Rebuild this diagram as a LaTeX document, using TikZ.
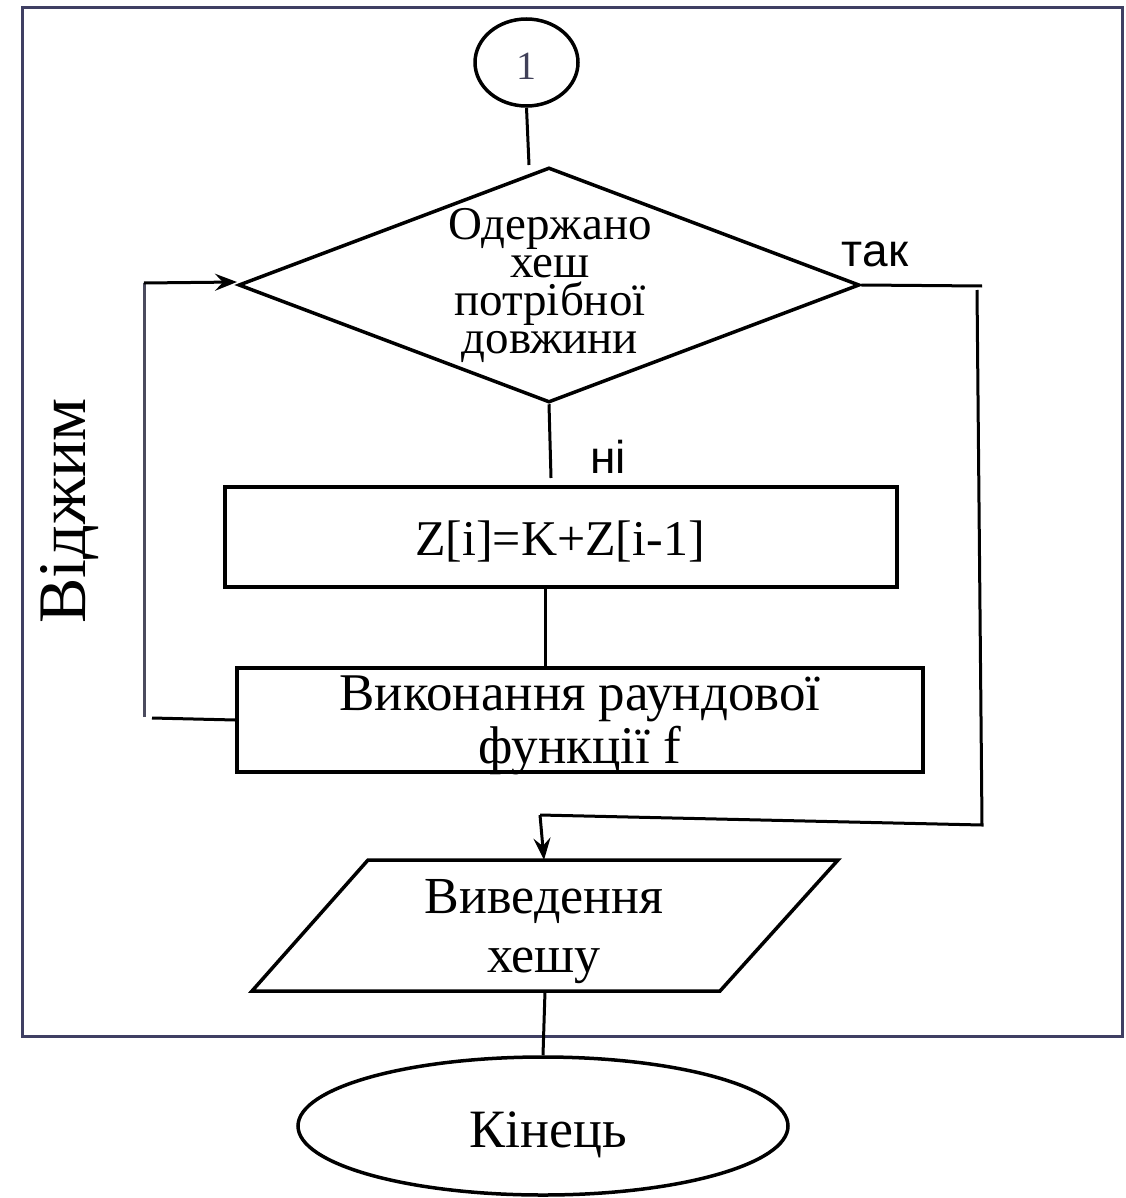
\documentclass[tikz,border=0pt]{standalone}
\usepackage{fontspec}
\setmainfont{Liberation Serif}
\newfontfamily\sansf{Liberation Sans}
\usetikzlibrary{shapes.geometric,arrows.meta}
\definecolor{framec}{HTML}{3F3F63}
\definecolor{loopc}{HTML}{4B4B5E}
\definecolor{numc}{HTML}{404058}
\newcommand{\tightlines}[2]{\vbox{\baselineskip=#1\lineskiplimit=-200pt\lineskip=0pt\halign{\hfil##\hfil\cr#2\crcr}}}
\begin{document}
\begin{tikzpicture}[x=1pt,y=-1pt,
  shp/.style={draw=black,line width=3.5pt},
  conn/.style={draw=black,line width=3pt},
  arr/.style={conn,-{Stealth[length=22pt,width=17pt,inset=8pt]}},
  lbl/.style={inner sep=0pt,anchor=base},
  fsz/.style={font=\fontsize{#1}{#1}\selectfont},
  sfsz/.style={font=\sansf\fontsize{#1}{#1}\selectfont}
]
\useasboundingbox (0,0) rectangle (1125,1198);
% frame
\draw[framec,line width=3pt] (22.5,7.5) rectangle (1122.5,1036);

% start connector circle
\node[shp,ellipse,minimum width=103pt,minimum height=87pt,inner sep=0pt] (c1) at (526.5,62.5) {};
\node[lbl,fsz=40,text=numc] (c1t) at (526.5,80) {1};

% decision
\node[shp,diamond,minimum width=621pt,minimum height=235pt,inner sep=0pt] (d) at (549,285) {};
\node[lbl,fsz=47] (dt) at (550,353) {\tightlines{37.7pt}{Одержано\cr хеш\cr потрібної\cr довжини}};
\node[lbl,sfsz=46] (yes) at (875,266) {так};
\node[lbl,sfsz=46] (no) at (608,473) {ні};

% process boxes
\node[shp,rectangle,minimum width=672pt,minimum height=100pt,inner sep=0pt] (b1) at (561,537) {};
\node[lbl,fsz=50] (b1t) at (560,555) {Z[i]=K+Z[i-1]};
\node[shp,rectangle,minimum width=686pt,minimum height=104pt,inner sep=0pt] (b2) at (580,720) {};
\node[lbl,fsz=53] (b2t) at (580,763) {\tightlines{53pt}{Виконання раундової\cr функції f}};

% output parallelogram
\coordinate (pTL) at (368,860);
\coordinate (pTR) at (838,860);
\coordinate (pBR) at (720,991);
\coordinate (pBL) at (252,991);
\draw[shp,line join=miter] (pTL) -- (pTR) -- (pBR) -- (pBL) -- cycle;
\node[lbl,fsz=52] (pt) at (544,972) {\tightlines{59pt}{Виведення\cr хешу}};
\coordinate (pgTop) at (544,860);
\coordinate (pgBot) at (545,991);

% end terminal
\node[shp,ellipse,minimum width=490pt,minimum height=138pt,inner sep=0pt] (e) at (543,1126) {};
\node[lbl,fsz=54] (et) at (548,1147) {Кінець};

% side label
\node[lbl,fsz=68,rotate=90] (side) at (85,511) {Віджим};

% connector coordinates
\coordinate (c1end) at (529,165);
\coordinate (dno) at (551,478);
\coordinate (m1) at (545,587);
\coordinate (m2) at (545,666);
\coordinate (r1) at (982,286);
\coordinate (r2) at (977,290);
\coordinate (r3) at (982,825);
\coordinate (r4) at (540,815);
\coordinate (l1) at (152,718);
\coordinate (l2) at (144,717);
\coordinate (l3) at (144,283);
\coordinate (l4) at (237,282);

% connectors
\draw[conn] (c1.south) -- (c1end);
\draw[conn] (d.south) -- (dno);
\draw[conn] (m1) -- (m2);
\draw[conn] (d.east) -- (r1);
\draw[conn] (r2) -- (r3) -- (r4);
\draw[arr] (r4) -- (pgTop);
\draw[conn] (b2.west) -- (l1);
\draw[loopc,line width=3pt] (l2) -- (l3);
\draw[arr] (l3) -- (l4);
\draw[conn] (pgBot) -- (e.north);
\end{tikzpicture}
\end{document}
